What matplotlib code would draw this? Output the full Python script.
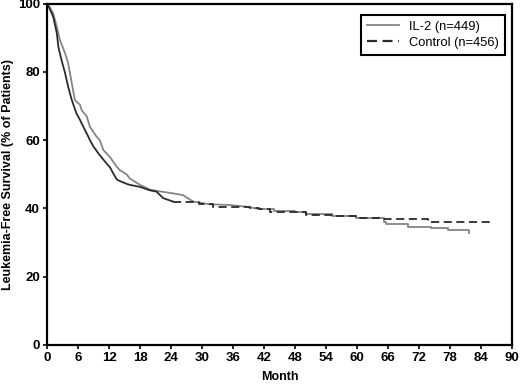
import matplotlib
matplotlib.use("Agg")
import matplotlib.pyplot as plt
from matplotlib.lines import Line2D

plt.rcParams['font.family'] = ['Liberation Sans', 'DejaVu Sans']

# Kaplan-Meier curve knots
il2_month = [0, 0.5, 1.2, 1.9, 2.5, 3.5, 4.1, 4.8, 5.4, 6.4, 6.7, 7.7, 8.3, 9.6, 10.2,
             10.9, 12.2, 13.5, 14.1, 15.4, 16.0, 18.0, 19.9, 21.8, 24.4, 26.3, 28.3,
             31.5, 35.3, 38.6, 41.1, 44.0, 48.0, 50.2, 55.2, 59.8, 62.4, 65.3, 65.6,
             69.8, 74.3, 77.6, 81.7]
il2_surv = [100, 99.0, 97.1, 93.2, 89.3, 85.4, 82.5, 76.6, 71.7, 70.3, 68.8, 66.9, 63.9,
            61.0, 60.0, 57.1, 55.0, 52.2, 51.2, 50.0, 48.8, 46.9, 45.5, 45.0, 44.4, 43.9,
            42.0, 41.2, 41.0, 40.5, 39.8, 39.3, 39.0, 38.3, 37.8, 37.3, 37.1, 36.1, 35.4,
            34.6, 34.2, 33.7, 32.8]

ctl_month = [0, 0.5, 1.2, 1.9, 2.2, 2.8, 3.5, 4.1, 4.8, 5.7, 6.4, 6.7, 8.0, 8.3, 9.0,
             10.2, 11.5, 12.2, 12.8, 13.5, 14.1, 15.4, 16.0, 18.0, 19.9, 21.2, 22.5,
             24.4, 27.6, 29.5, 32.1, 35.3, 39.2, 41.1, 43.1, 50.2, 55.2, 59.8, 64.6,
             73.8, 85.6]
ctl_surv = [100, 98.5, 96.1, 91.3, 87.3, 83.5, 79.6, 75.6, 71.7, 67.8, 65.9, 64.9, 61.0,
            60.0, 58.1, 55.6, 53.2, 52.0, 50.3, 48.5, 48.0, 47.2, 46.9, 46.3, 45.3, 44.9,
            43.0, 42.0, 41.8, 41.3, 40.5, 40.3, 40.0, 39.7, 38.9, 38.2, 37.8, 37.3, 36.8,
            36.1, 35.2]

labels = ['IL-2 (n=449)', 'Control (n=456)']
x_ticks = list(range(0, 91, 6))
y_ticks = list(range(0, 101, 20))

gray = '#858585'
dark = '#2b2b2b'

fig = plt.figure(figsize=(5.2, 3.85), dpi=100)
ax = fig.add_axes([0.0904, 0.1039, 0.8942, 0.887])


def split_at(months, surv, cut):
    k = max(i for i, m in enumerate(months) if m <= cut)
    return (months[:k + 1], surv[:k + 1]), (months[k:], surv[k:])


# dense early part (many small events) drawn as a continuous trace, sparse tail as steps
(a_m, a_s), (b_m, b_s) = split_at(il2_month, il2_surv, 41.1)
ax.plot(a_m, a_s, color=gray, lw=1.3)
ax.plot(b_m, b_s, drawstyle='steps-post', color=gray, lw=1.3)

(a_m, a_s), (b_m, b_s) = split_at(ctl_month, ctl_surv, 24.4)
ax.plot(a_m, a_s, color=dark, lw=1.3)
ax.plot(b_m, b_s, drawstyle='steps-post', color=dark, lw=1.3, dashes=(4.5, 2.5))

ax.set_xlim(0, 90)
ax.set_ylim(0, 100)
ax.set_xticks(x_ticks)
ax.set_yticks(y_ticks)
ax.tick_params(direction='out', length=3, width=1.2, labelsize=9.5, pad=2)
for lab in ax.get_xticklabels() + ax.get_yticklabels():
    lab.set_fontweight('bold')
for s in ax.spines.values():
    s.set_linewidth(1.6)

ax.set_xlabel('Month', fontsize=9, fontweight='bold', labelpad=5)
ax.set_ylabel('Leukemia-Free Survival (% of Patients)', fontsize=9, fontweight='bold',
              labelpad=3)

handles = [Line2D([], [], color=gray, lw=1.3),
           Line2D([], [], color=dark, lw=1.6, dashes=(4.5, 2.5))]
leg = ax.legend(handles, labels, loc='upper right', bbox_to_anchor=(0.985, 0.966),
                borderaxespad=0, fontsize=9.3, fancybox=False, framealpha=1,
                edgecolor='black', handlelength=2.5, borderpad=0.45, labelspacing=0.3,
                handletextpad=0.8)
leg.get_frame().set_linewidth(1.5)

fig.savefig('out.png', dpi=100)
